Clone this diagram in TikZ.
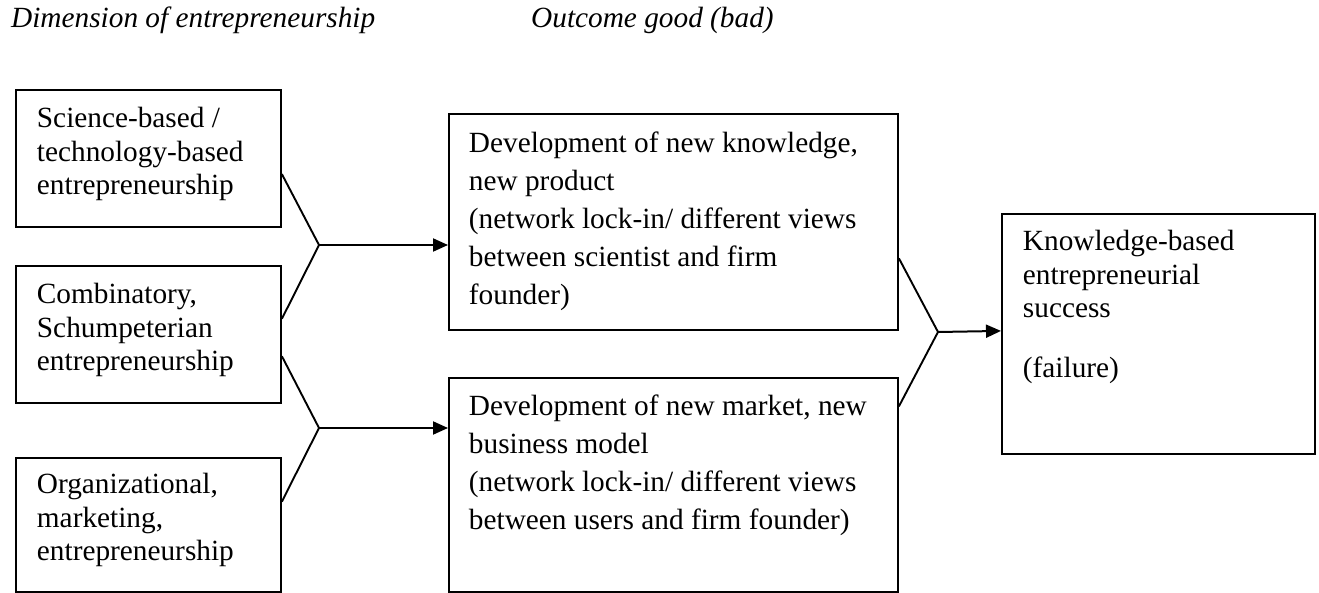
\documentclass[tikz,border=0pt]{standalone}
\usepackage{fontspec}
\setmainfont{Liberation Serif}
\usetikzlibrary{arrows.meta,calc}
\newcommand\bxtext[3]{\parbox[c][#2][t]{#1}{\raggedright\strut #3}}
\begin{document}
\begin{tikzpicture}[x=1pt,y=-1pt,
  bx/.style={draw, line width=1.9pt, anchor=north west, inner xsep=21pt,
    font=\fontsize{29.3}{33.3}\selectfont},
  bxm/.style={bx, inner xsep=20pt, font=\fontsize{29.3}{38}\selectfont},
  ttl/.style={anchor=base west, inner sep=0pt, font=\fontsize{29.3}{33.3}\selectfont\itshape},
  conn/.style={line width=1.9pt},
  arr/.style={line width=2pt, -{Triangle[length=15pt,width=13pt]}}]
\useasboundingbox (0,0) rectangle (1319,593);

\node[ttl] (t1) at (11,28) {Dimension of entrepreneurship};
\node[ttl] (t2) at (531,28) {Outcome good (bad)};

\node[bx, inner ysep=14.7pt] (L1) at (15,89)
  {\bxtext{223pt}{107.6pt}{Science-based /\\technology-based\\entrepreneurship}};
\node[bx, inner ysep=14.7pt] (L2) at (15,265)
  {\bxtext{223pt}{107.6pt}{Combinatory,\\Schumpeterian\\entrepreneurship}};
\node[bx, inner ysep=12.7pt] (L3) at (15,457)
  {\bxtext{223pt}{108.6pt}{Organizational,\\marketing,\\entrepreneurship}};

\node[bxm, inner ysep=12.4pt] (M1) at (448,113)
  {\bxtext{409pt}{191.2pt}{Development of new knowledge,\\new product\\(network lock-in/ different views\\between scientist and firm\\founder)}};
\node[bxm, inner ysep=11.4pt] (M2) at (448,377)
  {\bxtext{409pt}{191.2pt}{Development of new market, new\\business model\\(network lock-in/ different views\\between users and firm founder)}};

\node[bx, inner ysep=13.7pt] (R) at (1001,213)
  {\bxtext{271pt}{212.6pt}{Knowledge-based\\entrepreneurial\\success\\[26.7pt](failure)}};

\coordinate (a1) at (319,245);
\coordinate (a2) at (319,428);
\coordinate (a3) at (938,332);

\draw[conn] ($(L1.north east)!0.613!(L1.south east)$) -- (a1)
  -- ($(L2.north east)!0.387!(L2.south east)$);
\draw[conn] ($(L2.north east)!0.657!(L2.south east)$) -- (a2)
  -- ($(L3.north east)!0.328!(L3.south east)$);
\draw[conn] ($(M1.north east)!0.667!(M1.south east)$) -- (a3)
  -- ($(M2.north east)!0.136!(M2.south east)$);

\draw[arr] (a1) -- (a1 -| M1.west);
\draw[arr] (a2) -- (a2 -| M2.west);
\draw[arr] (a3) -- ($(R.north west)!0.4875!(R.south west)$);
\end{tikzpicture}
\end{document}
